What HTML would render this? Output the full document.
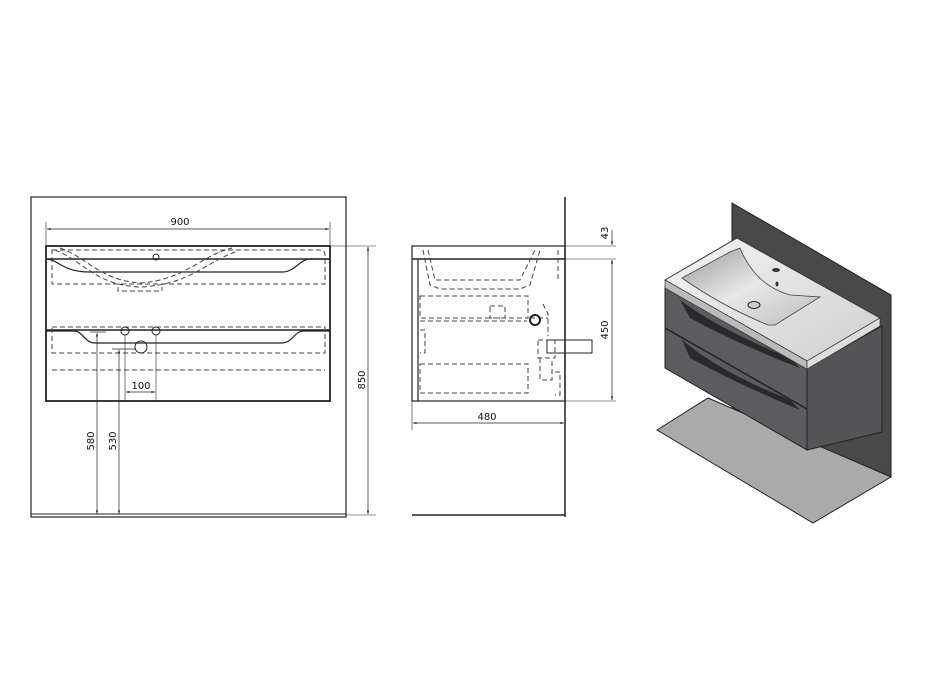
<!DOCTYPE html>
<html><head><meta charset="utf-8"><style>html,body{margin:0;padding:0;background:#fff}svg{display:block}text{font-family:"DejaVu Sans","Liberation Sans",sans-serif;font-size:10px;fill:#111}</style></head><body>
<svg width="928" height="686" viewBox="0 0 928 686" xmlns="http://www.w3.org/2000/svg">
<defs><marker id="a" viewBox="0 0 10 10" refX="10" refY="5" markerWidth="7" markerHeight="5" orient="auto-start-reverse"><path d="M0,2 L10,5 L0,8z" fill="#111"/></marker></defs>
<g fill="none" stroke="#222" stroke-width="1">
<!-- FRONT VIEW -->
<rect x="31" y="197" width="315" height="320" stroke-width="1.2"/>
<line x1="31" y1="514" x2="346" y2="514"/>
<rect x="46" y="246" width="284" height="155" stroke-width="1.8"/>
<line x1="46" y1="259" x2="330" y2="259" stroke-width="1.5"/>
<path d="M46,259 C58,259 62,272 90,272 L282,272 C295,272 300,259 310,259 L330,259" stroke-width="1.2"/>
<path d="M46,330 L330,330" stroke-width="1.5"/>
<path d="M46,331 L75,331 C82,331 85,343 95,343 L282,343 C292,343 295,331 303,331 L330,331" stroke-width="1.2"/>
<g stroke-dasharray="5,3" stroke="#444">
<path d="M52,250 L320,250 Q325,250 325,255 L325,284 L52,284 Z"/>
<path d="M52,327 L325,327 L325,353 L52,353 Z"/>
<line x1="52" y1="370" x2="325" y2="370"/>
<path d="M55,250 C85,262 95,285 140,287 C190,285 205,262 238,251"/>
<path d="M60,248 C88,258 100,280 140,283 C185,280 200,256 232,248"/>
<path d="M118,287 L118,291 L162,291 L162,287"/>
</g>
<circle cx="156" cy="257" r="3"/>
<circle cx="125" cy="331" r="4"/><circle cx="156" cy="331" r="4"/><circle cx="141" cy="347" r="6"/>
<line x1="46" y1="222" x2="46" y2="246" stroke-width=".6"/><line x1="330" y1="222" x2="330" y2="246" stroke-width=".6"/>
<line x1="47" y1="229" x2="329" y2="229" stroke-width=".7" marker-start="url(#a)" marker-end="url(#a)"/>
<line x1="330" y1="246" x2="376" y2="246" stroke-width=".6"/><line x1="346" y1="515" x2="376" y2="515" stroke-width=".6"/>
<line x1="368" y1="247" x2="368" y2="514" stroke-width=".7" marker-start="url(#a)" marker-end="url(#a)"/>
<line x1="90" y1="332" x2="106" y2="332" stroke-width=".7"/>
<line x1="97" y1="333" x2="97" y2="514" stroke-width=".7" marker-start="url(#a)" marker-end="url(#a)"/>
<line x1="112" y1="349" x2="135" y2="349" stroke-width=".7"/>
<line x1="119" y1="350" x2="119" y2="514" stroke-width=".7" marker-start="url(#a)" marker-end="url(#a)"/>
<line x1="125" y1="335" x2="125" y2="401" stroke-width=".6"/><line x1="156" y1="335" x2="156" y2="401" stroke-width=".6"/>
<line x1="126" y1="392" x2="155" y2="392" stroke-width=".7" marker-start="url(#a)" marker-end="url(#a)"/>
<!-- SIDE VIEW -->
<line x1="565" y1="197" x2="565" y2="517" stroke-width="1.5"/>
<line x1="412" y1="515" x2="565" y2="515" stroke-width="1.5"/>
<rect x="412" y="246" width="153" height="155" stroke-width="1.2"/>
<line x1="412" y1="259" x2="565" y2="259" stroke-width="1.5"/>
<line x1="418" y1="259" x2="418" y2="401" stroke-width="1.2"/>
<g stroke-dasharray="5,3" stroke="#444">
<path d="M423,250 L430,285 L440,289 L520,289 L530,285 L540,250"/>
<path d="M428,250 L435,280 L520,280 L535,250"/>
<path d="M420,296 L528,296 L528,318 L420,318 Z"/>
<path d="M420,321 L527,321"/>
<path d="M420,364 L528,364 L528,393 L420,393 Z"/>
<path d="M420,330 L425,330 L425,353 L420,353"/>
<path d="M490,306 L505,306 L505,318 L490,318 Z"/>
<path d="M543,304 L548,314 L548,336 M530,318 L548,318"/>
<path d="M538,340 L555,340 L555,358 L538,358 Z M540,358 L540,380 L552,380 L552,358"/>
<path d="M555,372 L560,372 L560,395 L555,395"/>
<path d="M558,250 L558,282"/>
</g>
<circle cx="535" cy="320" r="5" stroke-width="2"/>
<rect x="547" y="340" width="45" height="13" stroke-width="1"/>
<line x1="565" y1="246" x2="616" y2="246" stroke-width=".6"/><line x1="565" y1="259" x2="616" y2="259" stroke-width=".6"/><line x1="565" y1="401" x2="616" y2="401" stroke-width=".6"/>
<line x1="612" y1="230" x2="612" y2="245" stroke-width=".7" marker-end="url(#a)"/>
<line x1="612" y1="260" x2="612" y2="400" stroke-width=".7" marker-start="url(#a)" marker-end="url(#a)"/>
<line x1="412" y1="401" x2="412" y2="430" stroke-width=".6"/>
<line x1="413" y1="423" x2="564" y2="423" stroke-width=".7" marker-start="url(#a)" marker-end="url(#a)"/>
</g>
<text x="180" y="225" text-anchor="middle">900</text>
<text x="141" y="389" text-anchor="middle">100</text>
<text transform="translate(365,380) rotate(-90)" text-anchor="middle">850</text>
<text transform="translate(94,441) rotate(-90)" text-anchor="middle">580</text>
<text transform="translate(116,441) rotate(-90)" text-anchor="middle">530</text>
<text transform="translate(608,233) rotate(-90)" text-anchor="middle">43</text>
<text transform="translate(608,330) rotate(-90)" text-anchor="middle">450</text>
<text x="487" y="420" text-anchor="middle">480</text>
<!-- ISO VIEW -->
<defs><linearGradient id="g1" x1="0" y1="0" x2="1" y2="1"><stop offset="0" stop-color="#f4f4f4"/><stop offset="1" stop-color="#cfcfcf"/></linearGradient>
<linearGradient id="g2" x1="0" y1="0" x2="1" y2="1"><stop offset="0" stop-color="#999"/><stop offset="0.5" stop-color="#e8e8e8"/><stop offset="1" stop-color="#bbb"/></linearGradient></defs>
<polygon points="732,203 891,295 891,477 732,410" fill="#494949" stroke="#222"/>
<polygon points="657,430 708,398 891,477 813,523" fill="#aaa" stroke="#222"/>
<polygon points="807,368 882,326 882,432 807,450" fill="#555558" stroke="#222"/>
<polygon points="665,287 807,368 807,450 665,368" fill="#5b5b60" stroke="#222"/>
<line x1="665" y1="328" x2="807" y2="409" stroke="#222" stroke-width="1.5"/>
<path d="M680,300 Q720,330 790,358 L800,368 Q740,345 690,318 Z" fill="#2a2a2c"/>
<path d="M682,340 Q720,372 790,400 L800,410 Q740,385 690,358 Z" fill="#2a2a2c"/>
<polygon points="665,280 737,238 880,318 807,361" fill="url(#g1)" stroke="#333"/>
<polygon points="665,280 807,361 807,369 665,288" fill="#bbb" stroke="#333" stroke-width=".7"/>
<polygon points="807,361 880,318 880,326 807,369" fill="#ddd" stroke="#333" stroke-width=".7"/>
<path d="M682,278 L730,252 L740,248 Q755,285 790,295 L820,297 L775,325 L768,325 Q720,305 682,278 Z" fill="url(#g2)" stroke="#444" stroke-width=".8"/>
<ellipse cx="754" cy="305" rx="6" ry="3.5" fill="#ccc" stroke="#222"/>
<ellipse cx="776" cy="270" rx="4" ry="2" fill="#333"/>
<ellipse cx="777" cy="284" rx="1.5" ry="2.5" fill="#333"/>
</svg>
</body></html>
